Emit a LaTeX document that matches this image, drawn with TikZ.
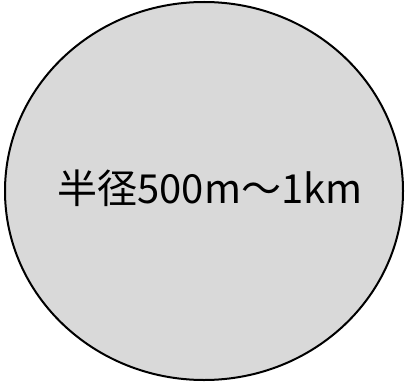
\documentclass[tikz,border=0pt]{standalone}
\usepackage{fontspec}
\newfontfamily\jpfont{Noto Sans CJK JP}
\usepackage{tikz}

\begin{document}
\begin{tikzpicture}[
    x=1pt, y=-1pt,
    zone/.style={draw=black, line width=2pt, fill={rgb,255:red,217;green,217;blue,217}},
    zonelabel/.style={font=\jpfont\fontsize{40}{46}\selectfont, inner sep=0pt}
  ]
  \useasboundingbox (0,0) rectangle (411,382);

  % ── area ────────────────────────────────────────────────────────
  \draw[zone] (204,191) ellipse [x radius=199, y radius=189];

  % ── label ───────────────────────────────────────────────────────
  \node[zonelabel] (radius) at (210,188) {半径500m～1km};

\end{tikzpicture}
\end{document}
